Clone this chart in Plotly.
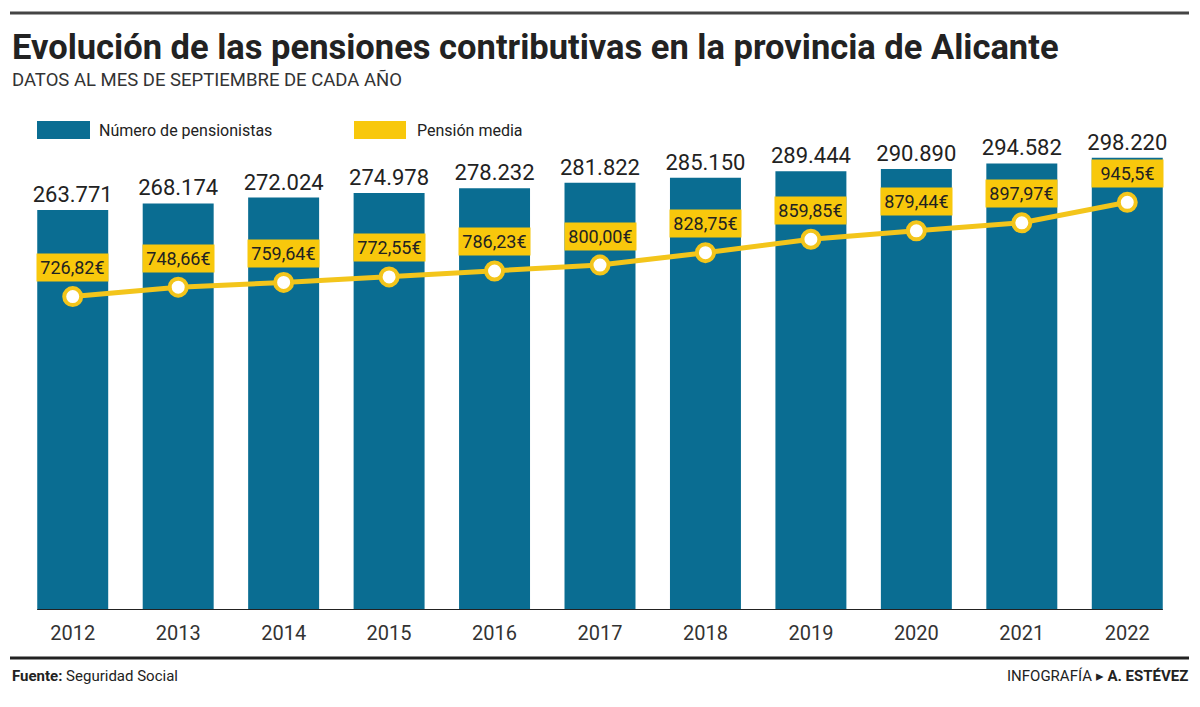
import plotly.graph_objects as go

# data
years = ["2012", "2013", "2014", "2015", "2016", "2017", "2018", "2019", "2020", "2021", "2022"]
pensionistas = [263771, 268174, 272024, 274978, 278232, 281822, 285150, 289444, 290890, 294582, 298220]
pension_media = [726.82, 748.66, 759.64, 772.55, 786.23, 800.00, 828.75, 859.85, 879.44, 897.97, 945.5]
pension_labels = ["726,82€", "748,66€", "759,64€", "772,55€", "786,23€", "800,00€",
                  "828,75€", "859,85€", "879,44€", "897,97€", "945,5€"]

BLUE = "#0a6d92"
YELLOW = "#f8c80c"
LINE_YELLOW = "#f3c51b"
DARK = "#222222"
FONT = "Liberation Sans Narrow, Roboto, sans-serif"

# page body has an 8px margin, so the figure is a bit smaller than the window
PAGE = 8
W, H = 1200 - 2 * PAGE, 707 - 2 * PAGE
# plot area in window pixels: x 20..1180, y 140..610
L, R = 20 - PAGE, W - (1180 - PAGE)
T, B = 140 - PAGE, H - (610 - PAGE)
BARGAP = 0.327


def px_x(px):
    # window pixel -> paper x
    return (px - PAGE - L) / (W - L - R)


def px_y(py):
    # window pixel -> paper y
    return (H - B - (py - PAGE)) / (H - T - B)


def es_thousands(v):
    return f"{v:,}".replace(",", ".")


idx = list(range(len(years)))

fig = go.Figure()

fig.add_trace(go.Bar(
    x=idx,
    y=pensionistas,
    marker=dict(color=BLUE, line=dict(width=0)),
    text=[es_thousands(v) for v in pensionistas],
    textposition="outside",
    textfont=dict(family=FONT, size=22, color=DARK),
    constraintext="none",
    cliponaxis=False,
    name="Número de pensionistas",
    customdata=years,
    hovertemplate="%{customdata}: %{text}<extra></extra>",
))

fig.add_trace(go.Scatter(
    x=idx,
    y=pension_media,
    yaxis="y2",
    mode="lines+markers",
    line=dict(color=LINE_YELLOW, width=5),
    marker=dict(size=17, color="white", line=dict(color=LINE_YELLOW, width=4)),
    cliponaxis=False,
    name="Pensión media",
    customdata=years,
    hovertemplate="%{customdata}: %{y:.2f} €<extra></extra>",
))

plot_w = W - L - R
bar_px = plot_w / len(years) * (1 - BARGAP)

annotations = []
for i, v, lab in zip(idx, pension_media, pension_labels):
    annotations.append(dict(
        x=i, y=v, xref="x", yref="y2", yshift=29,
        text=lab, showarrow=False,
        width=bar_px, height=27, bgcolor=YELLOW, borderpad=0,
        font=dict(family=FONT, size=18, color=DARK),
    ))

# title, subtitle, legend, footer
annotations += [
    dict(x=px_x(10), y=px_y(47), xref="paper", yref="paper", xanchor="left", yanchor="middle",
         text="<b>Evolución de las pensiones contributivas en la provincia de Alicante</b>",
         showarrow=False, font=dict(family=FONT, size=34.5, color=DARK)),
    dict(x=px_x(10), y=px_y(80), xref="paper", yref="paper", xanchor="left", yanchor="middle",
         text="DATOS AL MES DE SEPTIEMBRE DE CADA AÑO",
         showarrow=False, font=dict(family=FONT, size=18.5, color="#333333")),
    dict(x=px_x(97), y=px_y(130), xref="paper", yref="paper", xanchor="left", yanchor="middle",
         text="Número de pensionistas", showarrow=False,
         font=dict(family=FONT, size=16, color=DARK)),
    dict(x=px_x(415), y=px_y(130), xref="paper", yref="paper", xanchor="left", yanchor="middle",
         text="Pensión media", showarrow=False,
         font=dict(family=FONT, size=16, color=DARK)),
    dict(x=px_x(10), y=px_y(676), xref="paper", yref="paper", xanchor="left", yanchor="middle",
         text="<b>Fuente:</b> Seguridad Social", showarrow=False,
         font=dict(family=FONT, size=15, color=DARK)),
    dict(x=px_x(1190), y=px_y(676), xref="paper", yref="paper", xanchor="right", yanchor="middle",
         text="INFOGRAFÍA ▸ <b>A. ESTÉVEZ</b>", showarrow=False,
         font=dict(family=FONT, size=15, color=DARK)),
]

half = (1 - BARGAP) / 2
shapes = [
    dict(type="line", xref="paper", yref="paper", x0=px_x(10), x1=px_x(1189),
         y0=px_y(13), y1=px_y(13), line=dict(color="#444444", width=3)),
    dict(type="line", xref="paper", yref="paper", x0=px_x(10), x1=px_x(1189),
         y0=px_y(658), y1=px_y(658), line=dict(color="#222222", width=3)),
    dict(type="rect", xref="paper", yref="paper", x0=px_x(37), x1=px_x(90),
         y0=px_y(139), y1=px_y(121), fillcolor=BLUE, line=dict(width=0)),
    dict(type="rect", xref="paper", yref="paper", x0=px_x(354), x1=px_x(406),
         y0=px_y(139), y1=px_y(121), fillcolor=YELLOW, line=dict(width=0)),
    dict(type="line", xref="x", yref="y", x0=-half, x1=len(years) - 1 + half,
         y0=0, y1=0, line=dict(color=DARK, width=2), layer="above"),
]

fig.update_layout(
    width=W, height=H,
    margin=dict(l=L, r=R, t=T, b=B),
    paper_bgcolor="white",
    plot_bgcolor="white",
    showlegend=False,
    bargap=BARGAP,
    xaxis=dict(
        range=[-0.5, len(years) - 0.5],
        tickmode="array", tickvals=idx, ticktext=years,
        showgrid=False, showline=False, zeroline=False,
        ticks="outside", ticklen=5, tickcolor="rgba(0,0,0,0)",
        tickfont=dict(family=FONT, size=20, color="#333333"),
    ),
    yaxis=dict(range=[0, 310000], visible=False, showgrid=False),
    yaxis2=dict(range=[0, 1090], overlaying="y", visible=False, showgrid=False),
    annotations=annotations,
    shapes=shapes,
)

fig.write_html("out.html")
